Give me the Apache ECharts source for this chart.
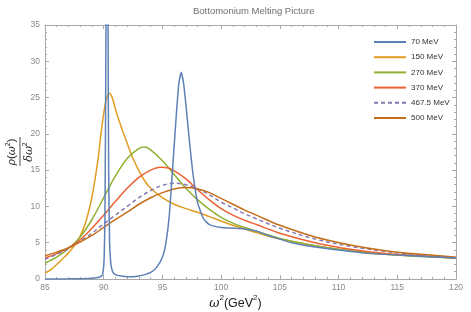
<!DOCTYPE html>
<html><head><meta charset="utf-8">
<script src="https://cdn.jsdelivr.net/npm/echarts@6/dist/echarts.min.js"></script>
<style>html,body{margin:0;padding:0;background:#fff}#c{width:471px;height:312px}</style>
</head><body><div id="c"></div>
<script>
// ---- data ----
var seriesNames = ['70 MeV','150 MeV','270 MeV','370 MeV','467.5 MeV','500 MeV'];
var xTicks = [85,90,95,100,105,110,115,120];
var yTicks = [0,5,10,15,20,25,30,35];

var x70 = [85,86,87,88,89,89.5,89.8,89.9,90.0,90.05,90.1,90.15,90.19,90.24,90.28,90.32,90.37,90.42,90.5,90.6,90.7,90.8,91,91.5,92,92.5,93,93.5,94,94.5,95,95.3,95.6,95.9,96.2,96.4,96.6,96.8,97,97.3,97.6,98,98.5,99,100,101,102,103,104,105,106,108,110,112,115,120];
var y70 = [0,0,0.02,0.05,0.1,0.2,0.4,0.6,1.8,3.6,8,20,35,70,90,70,35,15,5,2.2,1.3,0.9,0.6,0.4,0.3,0.3,0.4,0.6,0.9,1.6,3,5,9,16,23,27,28.5,27,24,19,14.5,10.5,8.3,7.5,7.1,7,6.9,6.6,6,5.5,5,4.4,4,3.6,3.3,2.9];

var x150 = [85,85.5,86,86.5,87,87.5,88,88.5,89,89.5,89.75,90,90.2,90.45,90.7,91,91.5,92,92.5,93,93.5,94,95,96,97,98,99,100,101,102,103,105,108,110,112,115,120];
var y150 = [0.8,1.3,2.0,2.8,3.6,4.6,5.9,8.0,11.3,16.3,19.8,22.8,24.6,25.6,25.1,23.4,20.9,18.7,16.6,14.9,13.5,12.5,11.2,10.3,9.7,9.2,8.6,8.0,7.4,6.9,6.4,5.5,4.6,4.1,3.7,3.3,2.9];

var x270 = [85,86,87,88,89,90,91,92,93,93.5,94,95,96,97,98,99,100,101,102,103,105,108,111,114,117,120];
var y270 = [2.2,3.0,4.2,5.8,8.2,11.2,14.2,16.6,18.0,18.2,17.8,16.3,14.4,12.5,10.9,9.6,8.5,7.7,7.1,6.6,5.6,4.6,3.9,3.4,3.1,2.9];

var x370 = [85,86,87,88,89,90,91,92,93,94,94.8,95.5,96,97,98,99,100,101,102,103,105,108,111,114,117,120];
var y370 = [2.9,3.5,4.3,5.4,7.0,8.8,10.7,12.5,14.0,15.0,15.4,15.3,14.9,13.8,12.3,10.9,9.7,8.8,8.1,7.5,6.3,5.0,4.1,3.5,3.2,2.9];

var x467 = [85,86,87,88,89,90,91,92,93,94,95,96,97,98,99,100,101,102,103,105,108,111,114,117,120];
var y467 = [2.7,3.4,4.2,5.2,6.3,7.6,8.8,10.0,11.2,12.2,12.9,13.2,13.0,12.4,11.6,10.6,9.8,9.0,8.3,7.0,5.5,4.5,3.8,3.3,2.95];

var x500 = [85,86,87,88,89,90,91,92,93,94,95,96,97,98,99,100,101,102,103,105,108,111,114,117,120];
var y500 = [3.2,3.7,4.3,5.1,6.0,7.1,8.2,9.2,10.3,11.2,11.9,12.4,12.6,12.4,11.9,11.1,10.3,9.5,8.8,7.4,5.8,4.7,3.9,3.4,3.0];

// ---- chart ----
var colors = ['#5E81B5','#E19C24','#8FB032','#EB6235','#8778B3','#C56E1A'];
function pairs(xs, ys){ return xs.map(function(x,i){ return [x, ys[i]]; }); }
var xsAll = [x70,x150,x270,x370,x467,x500];
var ysAll = [y70,y150,y270,y370,y467,y500];

var axisCol = '#a8a8a8';
function xAx(pos, showLabel){
  return {type:'value', position:pos, min:xTicks[0], max:xTicks[xTicks.length-1], interval:5,
    axisLine:{show:true, onZero:false, lineStyle:{color:axisCol, width:1}},
    axisTick:{show:true, inside:true, length:4, lineStyle:{color:axisCol}},
    minorTick:{show:true, splitNumber:5, length:2, lineStyle:{color:axisCol}},
    axisLabel:{show:showLabel, color:'#8a8a8a', fontSize:8.5, margin:4, fontFamily:'Liberation Sans'},
    splitLine:{show:false}};
}
function yAx(pos, showLabel){
  return {type:'value', position:pos, min:yTicks[0], max:yTicks[yTicks.length-1], interval:5,
    axisLine:{show:true, onZero:false, lineStyle:{color:axisCol, width:1}},
    axisTick:{show:true, inside:true, length:4, lineStyle:{color:axisCol}},
    minorTick:{show:true, splitNumber:5, length:2, lineStyle:{color:axisCol}},
    axisLabel:{show:showLabel, color:'#8a8a8a', fontSize:8.5, margin:5, fontFamily:'Liberation Sans'},
    splitLine:{show:false}};
}

var series = seriesNames.map(function(n, i){
  return {name:n, type:'line', xAxisIndex:0, yAxisIndex:0, data:pairs(xsAll[i], ysAll[i]),
    symbol:'none', showSymbol:false, smooth: i===0 ? 0.15 : 0.35, clip:true,
    lineStyle:{color:colors[i], width:1.5, type: i===4 ? [4,3] : 'solid'},
    itemStyle:{color:colors[i]}, z: i===0 ? 3 : 2};
});

var chart = echarts.init(document.getElementById('c'), null, {renderer:'canvas'});
chart.setOption({
  animation:false,
  backgroundColor:'#fff',
  title:{text:'Bottomonium Melting Picture', left:188, top:1,
    textStyle:{fontSize:9.5, fontWeight:'normal', color:'#707070', fontFamily:'Liberation Sans'}},
  grid:{left:45, right:15, top:25, bottom:33},
  legend:{orient:'vertical', left:373, top:38, padding:0, itemWidth:32, itemHeight:10, itemGap:7.2,
    itemStyle:{opacity:0},
    textStyle:{fontSize:8, color:'#333', fontFamily:'Liberation Sans'}, data:seriesNames},
  xAxis:[xAx('bottom', true), xAx('top', false)],
  yAxis:[yAx('left', true), yAx('right', false)],
  series: series,
  graphic:[
    {type:'text', left:'center', top:294, style:{
      text:'{i|ω}{s|2}{n|(GeV}{s|2}{n|)}',
      rich:{i:{fontSize:12.5, fontStyle:'italic', fontFamily:'DejaVu Serif', lineHeight:16, verticalAlign:'bottom', fill:'#222'},
            n:{fontSize:12.5, fontFamily:'Liberation Sans', lineHeight:16, verticalAlign:'bottom', fill:'#222'},
            s:{fontSize:8, fontFamily:'Liberation Sans', lineHeight:16, verticalAlign:'top', fill:'#222'}}}},
    {type:'group', x:20, y:152, rotation:Math.PI/2, children:[
      {type:'line', shape:{x1:-14, y1:0, x2:15, y2:0}, style:{stroke:'#222', lineWidth:0.8}},
      {type:'text', x:0, y:-8.5, style:{
        text:'{i|ρ}{n|(}{i|ω}{s|2}{n|)}', align:'center', verticalAlign:'middle',
        rich:{i:{fontSize:11, fontStyle:'italic', fontFamily:'DejaVu Serif', lineHeight:13, verticalAlign:'bottom', fill:'#222'},
              n:{fontSize:11.5, fontFamily:'Liberation Sans', lineHeight:13, verticalAlign:'bottom', fill:'#222'},
              s:{fontSize:7, fontFamily:'Liberation Sans', lineHeight:13, verticalAlign:'top', fill:'#222'}}}},
      {type:'text', x:0, y:8, style:{
        text:'{i|δω}{s|2}', align:'center', verticalAlign:'middle',
        rich:{i:{fontSize:11, fontStyle:'italic', fontFamily:'DejaVu Serif', lineHeight:13, verticalAlign:'bottom', fill:'#222'},
              s:{fontSize:7, fontFamily:'Liberation Sans', lineHeight:13, verticalAlign:'top', fill:'#222'}}}}
    ]}
  ]
});
</script></body></html>
